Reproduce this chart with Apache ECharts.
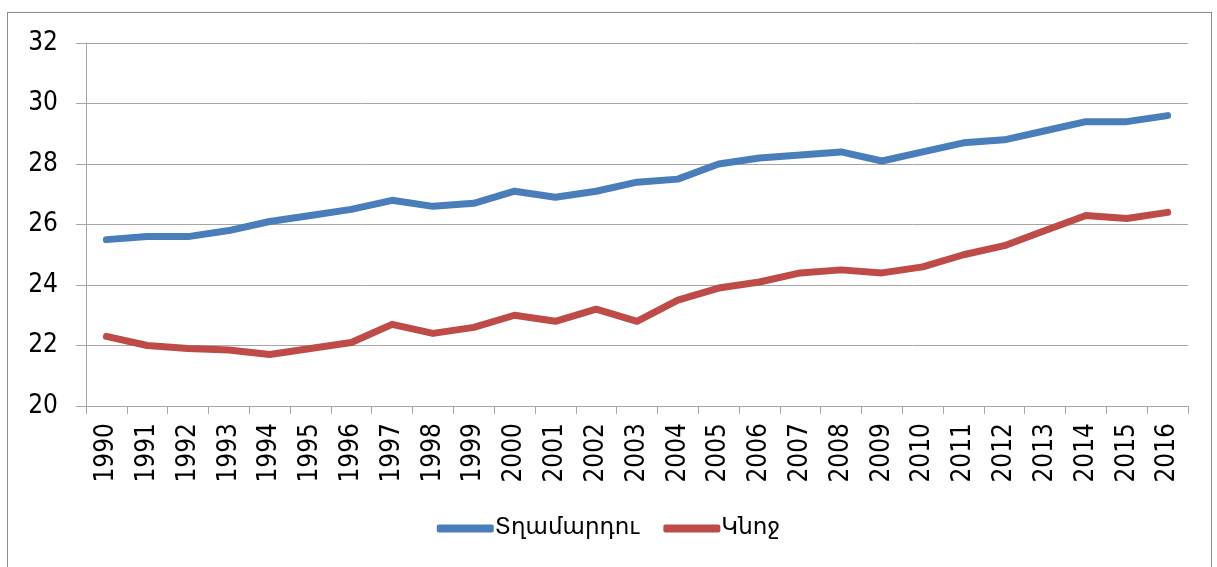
<!DOCTYPE html>
<html>
<head>
<meta charset="utf-8">
<script src="https://cdn.jsdelivr.net/npm/echarts@6/dist/echarts.min.js"></script>
<style>
  html, body { margin: 0; padding: 0; background: #fff; }
  #frame { position: absolute; left: 7px; top: 12px; width: 1205px; height: 570px; border: 1px solid #8c8c8c; box-sizing: border-box; }
  #main { position: absolute; left: 0; top: 0; width: 1217px; height: 567px; }
</style>
</head>
<body>
<div id="frame"></div>
<div id="main"></div>
<script>
var years = ['1990', '1991', '1992', '1993', '1994', '1995', '1996', '1997', '1998', '1999',
  '2000', '2001', '2002', '2003', '2004', '2005', '2006', '2007', '2008', '2009',
  '2010', '2011', '2012', '2013', '2014', '2015', '2016'];
// Տղամարդու
var men = [25.5, 25.6, 25.6, 25.8, 26.1, 26.3, 26.5, 26.8, 26.6, 26.7,
  27.1, 26.9, 27.1, 27.4, 27.5, 28.0, 28.2, 28.3, 28.4, 28.1,
  28.4, 28.7, 28.8, 29.1, 29.4, 29.4, 29.6];
// Կնոջ
var women = [22.3, 22.0, 21.9, 21.85, 21.7, 21.9, 22.1, 22.7, 22.4, 22.6,
  23.0, 22.8, 23.2, 22.8, 23.5, 23.9, 24.1, 24.4, 24.5, 24.4,
  24.6, 25.0, 25.3, 25.8, 26.3, 26.2, 26.4];

var labelFont = "'DejaVu Sans Condensed', 'Liberation Sans', sans-serif";

var chart = echarts.init(document.getElementById('main'));
var option = {
  animation: false,
  grid: { left: 86, right: 29, top: 43, bottom: 161 },
  legend: {
    bottom: 22,
    left: 'center',
    itemWidth: 57,
    itemHeight: 8,
    itemGap: 24,
    icon: 'roundRect',
    textStyle: { fontFamily: 'DejaVu Sans', fontSize: 23, color: '#000', padding: [0, 0, 0, -4] },
    data: ['Տղամարդու', 'Կնոջ']
  },
  xAxis: {
    type: 'category',
    data: years,
    boundaryGap: true,
    axisLine: { lineStyle: { color: '#a6a6a6', width: 1 } },
    axisTick: { show: true, length: 8, lineStyle: { color: '#a6a6a6' } },
    axisLabel: {
      rotate: 90,
      interval: 0,
      margin: 17,
      fontFamily: labelFont,
      fontSize: 26,
      color: '#000'
    }
  },
  yAxis: {
    type: 'value',
    min: 20,
    max: 32,
    interval: 2,
    axisLine: { show: true, lineStyle: { color: '#a6a6a6' } },
    axisTick: { show: true, length: 10, lineStyle: { color: '#a6a6a6' } },
    splitLine: { lineStyle: { color: '#a6a6a6', width: 1 } },
    axisLabel: {
      margin: 28,
      fontFamily: labelFont,
      fontSize: 26,
      color: '#000'
    }
  },
  series: [
    {
      name: 'Տղամարդու',
      type: 'line',
      data: men,
      showSymbol: false,
      symbol: 'none',
      color: '#4a7ebb',
      lineStyle: { width: 7, cap: 'round', join: 'round' }
    },
    {
      name: 'Կնոջ',
      type: 'line',
      data: women,
      showSymbol: false,
      symbol: 'none',
      color: '#be4b48',
      lineStyle: { width: 7, cap: 'round', join: 'round' }
    }
  ]
};
chart.setOption(option);
</script>
</body>
</html>
